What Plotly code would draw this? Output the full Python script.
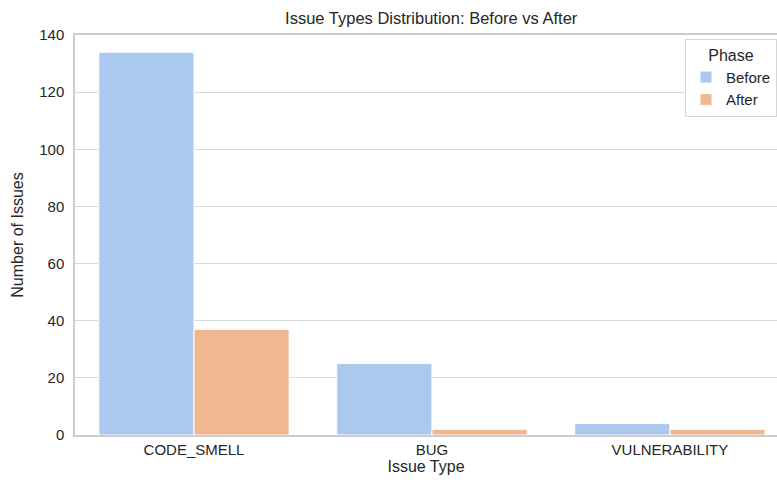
import plotly.graph_objects as go

categories = ["CODE_SMELL", "BUG", "VULNERABILITY"]
before_values = [134, 25, 4]
after_values = [37, 2, 2]
y_ticks = [0, 20, 40, 60, 80, 100, 120, 140]

fig = go.Figure()
fig.add_trace(go.Bar(x=categories, y=before_values, name="Before",
                     marker=dict(color="#abc9ee", line=dict(color="white", width=1))))
fig.add_trace(go.Bar(x=categories, y=after_values, name="After",
                     marker=dict(color="#f0b891", line=dict(color="white", width=1))))

font = "Liberation Sans, Arial, sans-serif"
fig.update_layout(
    width=777, height=485,
    barmode="group", bargap=0.2, bargroupgap=0,
    plot_bgcolor="white", paper_bgcolor="white",
    margin=dict(l=75, r=0, t=35, b=50),
    font=dict(family=font, size=15, color="#262626"),
    title=dict(text="Issue Types Distribution: Before vs After", x=0.555, xanchor="center",
               y=0.963, yanchor="middle", font=dict(size=16.5, color="#262626")),
    xaxis=dict(range=[-0.5, 2.45], showline=True, linecolor="#cccccc", linewidth=1.5, mirror=True,
               showgrid=False, ticks="", tickfont=dict(size=15),
               title=dict(text="Issue Type", font=dict(size=16), standoff=4)),
    yaxis=dict(range=[0, 140], tickvals=y_ticks, showline=True, linecolor="#cccccc", linewidth=1.5,
               showgrid=True, gridcolor="#d9d9d9", gridwidth=1, zeroline=False, ticks="",
               tickfont=dict(size=15), ticklabelstandoff=6,
               title=dict(text="Number of Issues", font=dict(size=16), standoff=12)),
    legend=dict(title=dict(text="Phase", side="top center", font=dict(size=16)),
                x=1.0, xanchor="right", y=0.99, yanchor="top",
                bgcolor="white", bordercolor="#d6d6d6", borderwidth=1,
                font=dict(size=15), tracegroupgap=0),
)

fig.write_html("out.html", config={"displayModeBar": False},
               post_script="document.body.style.margin='0';")
